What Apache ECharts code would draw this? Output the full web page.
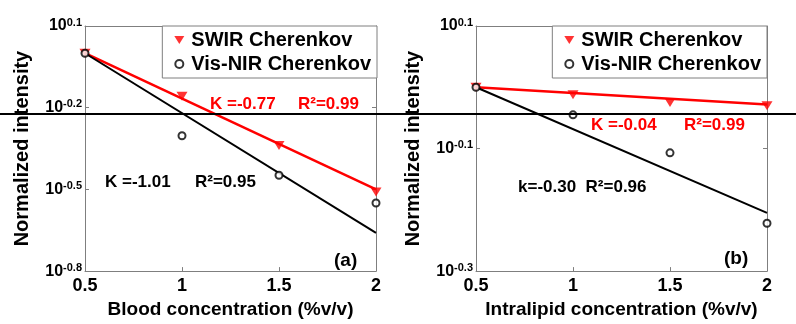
<!DOCTYPE html>
<html>
<head>
<meta charset="utf-8">
<script src="https://cdn.jsdelivr.net/npm/echarts@6/dist/echarts.min.js"></script>
<style>
html,body{margin:0;padding:0;background:#fff;}
#chart{width:796px;height:324px;}
</style>
</head>
<body>
<div id="chart"></div>
<script>
// x categories (concentration, %v/v)
var concentrations = [0.5, 1, 1.5, 2];
// values are log10(normalized intensity)
var bloodSwir = [0.0, -0.158, -0.339, -0.51];
var bloodVisNir = [0.0, -0.303, -0.448, -0.55];
var bloodSwirFit = [0.0, -0.50];      // fit line at x = 0.5 and x = 2
var bloodVisNirFit = [0.0, -0.66];
var lipidSwir = [0.0, -0.012, -0.025, -0.03];
var lipidVisNir = [0.0, -0.045, -0.107, -0.222];
var lipidSwirFit = [0.0, -0.028];
var lipidVisNirFit = [0.0, -0.205];
var fitX = [0.5, 2];
// y tick exponents
var bloodYTicks = [-0.8, -0.5, -0.2, 0.1];
var lipidYTicks = [-0.3, -0.1, 0.1];
var seriesNames = ['SWIR Cherenkov', 'Vis-NIR Cherenkov'];

function pairs(xs, ys) { return xs.map(function (x, i) { return [x, ys[i]]; }); }

var FONT = 'Liberation Sans, Arial, sans-serif';
var GRAY = '#7f7f7f';
var RED = '#ff0000';

function yLabel(v) {
  var e = Math.round(v * 10) / 10;
  return '{b|10}{s|' + e + '}';
}
var yRich = {
  b: {fontSize: 16, fontWeight: 'bold', fontFamily: FONT, color: '#000', lineHeight: 18, verticalAlign: 'middle'},
  s: {fontSize: 11, fontWeight: 'bold', fontFamily: FONT, color: '#000', lineHeight: 12, verticalAlign: 'top', padding: [0, 0, 20, 0]}
};

function xAxisMain(gi, name) {
  return {
    type: 'value', gridIndex: gi, min: 0.5, max: 2, interval: 0.5, position: 'bottom',
    name: name, nameLocation: 'middle', nameGap: 24,
    nameTextStyle: {fontSize: 19, fontWeight: 'bold', fontFamily: FONT, color: '#000'},
    axisLine: {onZero: false, lineStyle: {color: GRAY, width: 1}},
    axisTick: {inside: true, length: 4, lineStyle: {color: GRAY}},
    axisLabel: {margin: 6, fontSize: 18, fontWeight: 'bold', fontFamily: FONT, color: '#000',
      formatter: function (v) { return String(v); }},
    splitLine: {show: false}
  };
}
function xAxisTop(gi) {
  return {
    type: 'value', gridIndex: gi, min: 0.5, max: 2, interval: 0.5, position: 'top',
    axisLine: {onZero: false, lineStyle: {color: GRAY, width: 1}},
    axisTick: {inside: true, length: 4, lineStyle: {color: GRAY}},
    axisLabel: {show: false}, splitLine: {show: false}
  };
}
function yAxisMain(gi, ticks, interval) {
  return {
    type: 'value', gridIndex: gi, min: ticks[0], max: ticks[ticks.length - 1], interval: interval,
    position: 'left',
    name: 'Normalized intensity', nameLocation: 'middle', nameGap: 53,
    nameTextStyle: {fontSize: 20, fontWeight: 'bold', fontFamily: FONT, color: '#000'},
    axisLine: {show: true, onZero: false, lineStyle: {color: GRAY, width: 1}},
    axisTick: {show: true, inside: true, length: 4, lineStyle: {color: GRAY}},
    axisLabel: {margin: 3, formatter: yLabel, rich: yRich},
    splitLine: {show: false}
  };
}
function yAxisRight(gi, ticks, interval) {
  return {
    type: 'value', gridIndex: gi, min: ticks[0], max: ticks[ticks.length - 1], interval: interval,
    position: 'right',
    axisLine: {show: true, onZero: false, lineStyle: {color: GRAY, width: 1}},
    axisTick: {show: true, inside: true, length: 4, lineStyle: {color: GRAY}},
    axisLabel: {show: false}, splitLine: {show: false}
  };
}

function panelSeries(xi, yi, swir, vis, swirFit, visFit) {
  return [
    {type: 'line', name: 'SWIR fit', xAxisIndex: xi, yAxisIndex: yi, data: pairs(fitX, swirFit),
      showSymbol: false, symbol: 'none', lineStyle: {color: RED, width: 2.5}, silent: true, z: 2},
    {type: 'line', name: 'Vis-NIR fit', xAxisIndex: xi, yAxisIndex: yi, data: pairs(fitX, visFit),
      showSymbol: false, symbol: 'none', lineStyle: {color: '#000', width: 2}, silent: true, z: 2},
    {type: 'scatter', name: seriesNames[0], xAxisIndex: xi, yAxisIndex: yi, data: pairs(concentrations, swir),
      symbol: 'triangle', symbolRotate: 180, symbolSize: [11, 9], itemStyle: {color: RED}, z: 3},
    {type: 'scatter', name: seriesNames[1], xAxisIndex: xi, yAxisIndex: yi, data: pairs(concentrations, vis),
      symbol: 'circle', symbolSize: 7, itemStyle: {color: '#fff', borderColor: '#000', borderWidth: 2}, z: 4}
  ];
}

function legend(rightPx) {
  return {
    data: [
      {name: seriesNames[0], icon: 'path://M0,0L10,0L5,8Z', itemStyle: {color: RED}},
      {name: seriesNames[1], icon: 'circle', itemStyle: {color: '#fff', borderColor: '#000', borderWidth: 2}}
    ],
    orient: 'vertical', right: rightPx, top: 26,
    padding: [4, 6, 4, 12], itemGap: 4, itemWidth: 10, itemHeight: 8,
    backgroundColor: '#fff', borderColor: GRAY, borderWidth: 1,
    textStyle: {fontSize: 20, fontWeight: 'bold', fontFamily: FONT, color: '#000', padding: [0, 0, 0, 2]},
    selectedMode: false
  };
}

function txt(x, y, s, color, size) {
  return {type: 'text', x: x, y: y, z: 50,
    style: {text: s, fill: color, font: 'bold ' + (size || 17) + 'px ' + FONT, textVerticalAlign: 'middle'}};
}

var chart = echarts.init(document.getElementById('chart'), null, {renderer: 'canvas'});
chart.setOption({
  animation: false,
  backgroundColor: '#fff',
  grid: [
    {left: 85, top: 26, width: 291, height: 248},
    {left: 476, top: 26, width: 291, height: 248}
  ],
  xAxis: [
    xAxisMain(0, 'Blood concentration (%v/v)'), xAxisTop(0),
    xAxisMain(1, 'Intralipid concentration (%v/v)'), xAxisTop(1)
  ],
  yAxis: [
    yAxisMain(0, bloodYTicks, 0.3), yAxisRight(0, bloodYTicks, 0.3),
    yAxisMain(1, lipidYTicks, 0.2), yAxisRight(1, lipidYTicks, 0.2)
  ],
  legend: [legend(796 - 377), legend(796 - 767)],
  series: [].concat(
    panelSeries(0, 0, bloodSwir, bloodVisNir, bloodSwirFit, bloodVisNirFit),
    panelSeries(2, 2, lipidSwir, lipidVisNir, lipidSwirFit, lipidVisNirFit)
  ),
  graphic: [
    {type: 'line', z: 60, shape: {x1: 0, y1: 114, x2: 796, y2: 114}, style: {stroke: '#000', lineWidth: 2}},
    txt(210, 104, 'K =-0.77', RED),
    txt(298, 104, 'R²=0.99', RED),
    txt(105, 182, 'K =-1.01', '#000'),
    txt(195, 182, 'R²=0.95', '#000'),
    txt(334, 261, '(a)', '#000', 19),
    txt(591, 125, 'K =-0.04', RED),
    txt(684, 125, 'R²=0.99', RED),
    txt(518, 187, 'k=-0.30  R²=0.96', '#000'),
    txt(724, 259, '(b)', '#000', 19)
  ]
});
</script>
</body>
</html>
